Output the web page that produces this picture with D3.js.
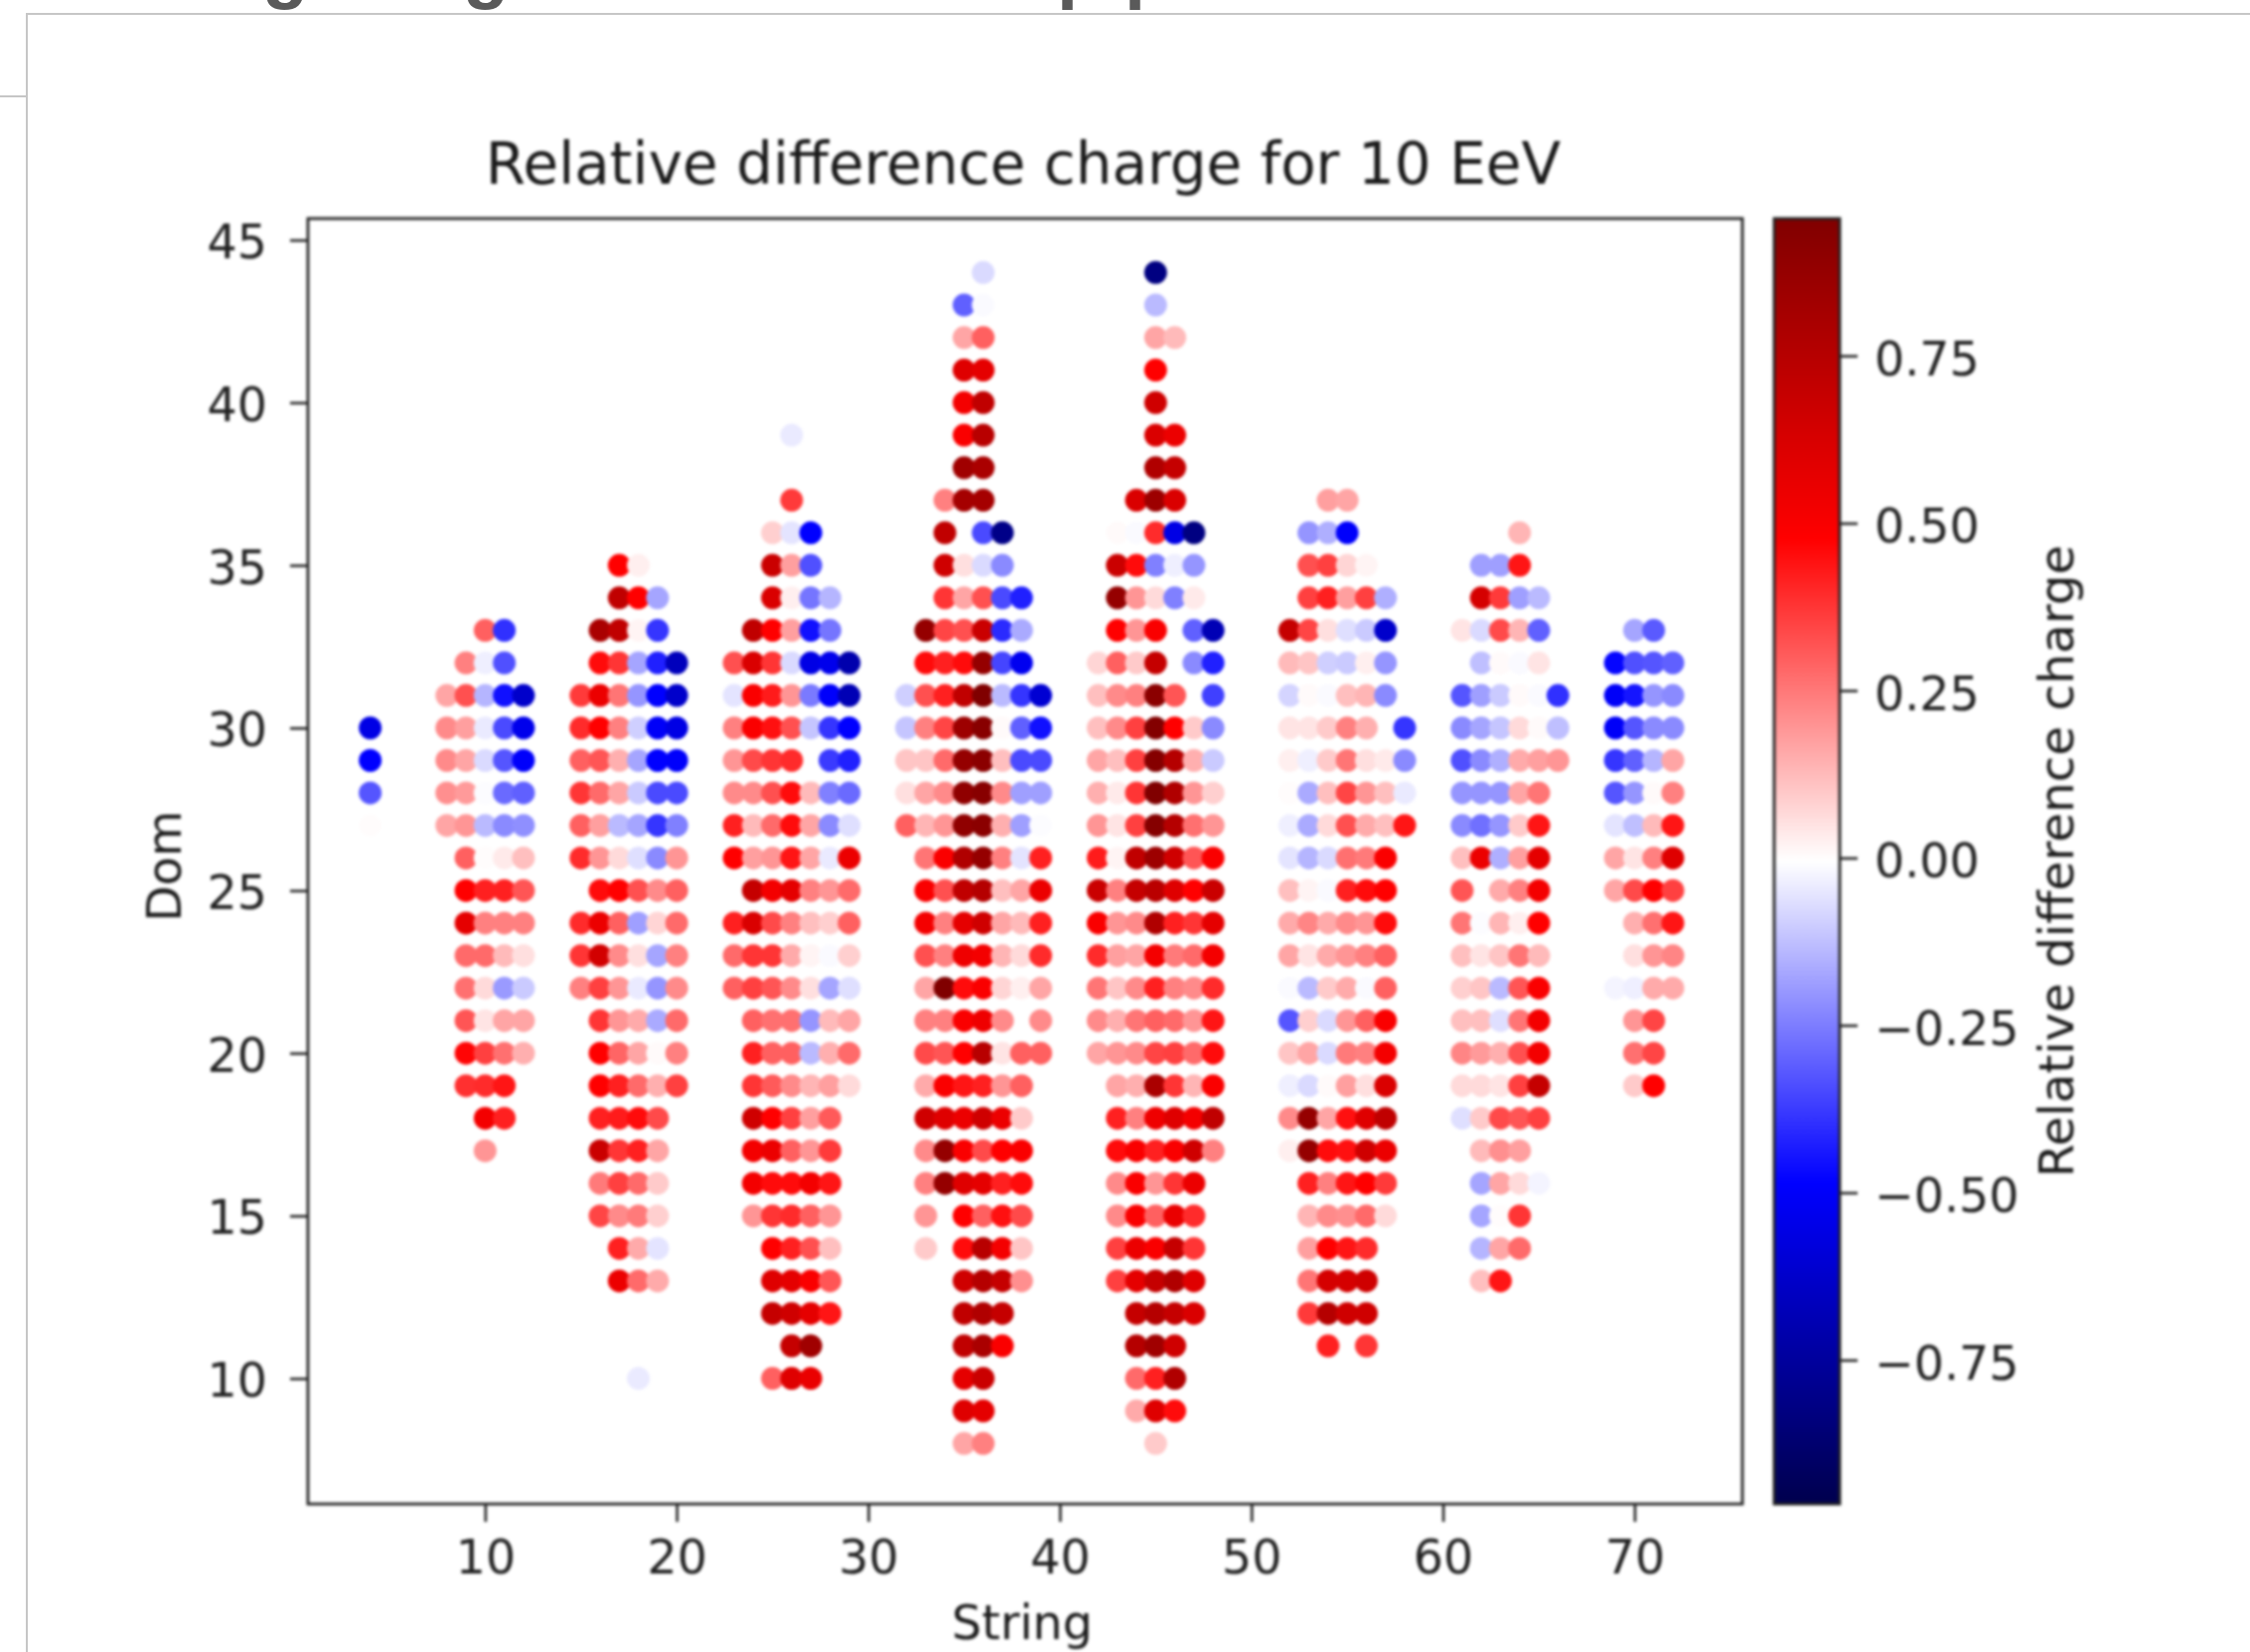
<!DOCTYPE html>
<html>
<head>
<meta charset="utf-8">
<script src="https://cdn.jsdelivr.net/npm/d3@7"></script>
<style>
  html, body { margin: 0; padding: 0; background: #fff; }
  svg { display: block; }
  text { font-family: "DejaVu Sans", sans-serif; fill: #1a1a1a; }
</style>
</head>
<body>
<svg id="chart" width="2265" height="1663"></svg>
<script>
// [string, relative difference] per dom
const dom44 = [[36,-.07],[45,-.82]]
const dom43 = [[35,-.3],[36,-.01],[45,-.13]]
const dom42 = [[35,.17],[36,.3],[45,.17],[46,.13]]
const dom41 = [[35,.6],[36,.58],[45,.48]]
const dom40 = [[35,.52],[36,.72],[45,.66]]
const dom39 = [[26,-.04],[35,.5],[36,.75],[45,.62],[46,.55]]
const dom38 = [[35,.84],[36,.8],[45,.78],[46,.7]]
const dom37 = [[26,.37],[34,.24],[35,.82],[36,.82],[44,.62],[45,.85],[46,.62],[54,.18],[55,.17]]
const dom36 = [[25,.09],[26,-.05],[27,-.48],[34,.72],[36,-.34],[37,-.8],[43,.01],[44,-.01],[45,.4],[46,-.55],[47,-.82],[53,-.2],[54,-.15],[55,-.49],[64,.14]]
const dom35 = [[17,.48],[18,.03],[25,.68],[26,.18],[27,-.33],[34,.66],[35,.06],[36,-.07],[37,-.22],[43,.68],[44,.46],[45,-.24],[46,-.03],[47,-.2],[53,.33],[54,.36],[55,.08],[56,.02],[62,-.18],[63,-.18],[64,.44]]
const dom34 = [[17,.72],[18,.48],[19,-.17],[25,.62],[26,.03],[27,-.26],[28,-.14],[34,.38],[35,.17],[36,.33],[37,-.34],[38,-.42],[43,.88],[44,.2],[45,.07],[46,-.24],[47,.04],[53,.36],[54,.42],[55,.18],[56,.36],[57,-.15],[62,.64],[63,.37],[64,-.18],[65,-.13]]
const dom33 = [[10,.3],[11,-.39],[16,.8],[17,.72],[18,.02],[19,-.38],[24,.72],[25,.48],[26,.18],[27,-.45],[28,-.26],[33,.88],[34,.35],[35,.33],[36,.68],[37,-.4],[38,-.16],[43,.48],[44,.2],[45,.5],[47,-.3],[48,-.68],[52,.7],[53,.35],[54,.06],[55,-.06],[56,-.1],[57,-.62],[61,.05],[62,-.07],[63,.34],[64,.14],[65,-.3],[70,-.17],[71,-.31]]
const dom32 = [[9,.24],[10,-.03],[11,-.33],[16,.46],[17,.38],[18,-.17],[19,-.42],[20,-.66],[23,.33],[24,.62],[25,.38],[26,-.07],[27,-.55],[28,-.53],[29,-.7],[33,.46],[34,.42],[35,.46],[36,.88],[37,-.35],[38,-.52],[42,.08],[43,.3],[44,.1],[45,.7],[47,-.22],[48,-.42],[52,.13],[53,.11],[54,-.09],[55,-.1],[56,.03],[57,-.2],[62,-.12],[63,.01],[64,-.01],[65,.05],[69,-.47],[70,-.33],[71,-.32],[72,-.3]]
const dom31 = [[8,.17],[9,.33],[10,-.14],[11,-.45],[12,-.62],[15,.37],[16,.55],[17,.26],[18,-.2],[19,-.48],[20,-.62],[23,-.05],[24,.5],[25,.43],[26,.2],[27,-.25],[28,-.49],[29,-.68],[32,-.09],[33,.33],[34,.42],[35,.72],[36,.96],[37,-.13],[38,-.38],[39,-.6],[42,.12],[43,.22],[44,.24],[45,.92],[46,.32],[48,-.36],[52,-.08],[53,.01],[54,-.01],[55,.12],[56,.14],[57,-.22],[61,-.32],[62,-.18],[63,-.1],[64,.01],[65,-.01],[66,-.39],[69,-.5],[70,-.44],[71,-.2],[72,-.22]]
const dom30 = [[4,-.55],[8,.22],[9,.18],[10,-.04],[11,-.34],[12,-.53],[15,.4],[16,.48],[17,.24],[18,-.09],[19,-.5],[20,-.55],[23,.24],[24,.5],[25,.45],[26,.33],[27,-.11],[28,-.38],[29,-.48],[32,-.11],[33,.24],[34,.35],[35,.85],[36,.93],[37,.01],[38,-.3],[39,-.45],[42,.12],[43,.22],[44,.36],[45,.95],[46,.48],[47,.1],[48,-.22],[52,.05],[53,.05],[54,.1],[55,.24],[56,.15],[58,-.38],[61,-.22],[62,-.17],[63,-.11],[64,.07],[65,.01],[66,-.12],[69,-.5],[70,-.32],[71,-.22],[72,-.22]]
const dom29 = [[4,-.48],[8,.22],[9,.17],[10,-.07],[11,-.32],[12,-.49],[15,.3],[16,.32],[17,.15],[18,-.17],[19,-.48],[20,-.49],[23,.2],[24,.34],[25,.38],[26,.4],[28,-.37],[29,-.42],[32,.11],[33,.11],[34,.28],[35,.88],[36,.92],[37,.12],[38,-.34],[39,-.34],[42,.17],[43,.12],[44,.36],[45,.94],[46,.76],[47,.15],[48,-.1],[52,.03],[53,-.03],[54,.1],[55,.26],[56,.06],[57,.04],[58,-.22],[61,-.33],[62,-.22],[63,-.15],[64,.16],[65,.18],[66,.2],[69,-.38],[70,-.3],[71,-.14],[72,.17]]
const dom28 = [[4,-.32],[8,.21],[9,.19],[10,-.005],[11,-.28],[12,-.3],[15,.38],[16,.28],[17,.17],[18,-.1],[19,-.34],[20,-.34],[23,.22],[24,.22],[25,.33],[26,.46],[27,.13],[28,-.24],[29,-.28],[32,.06],[33,.17],[34,.22],[35,.9],[36,.93],[37,.22],[38,-.18],[39,-.18],[42,.15],[43,.04],[44,.38],[45,.96],[46,.78],[47,.2],[48,.09],[52,.005],[53,-.16],[54,.12],[55,.35],[56,.2],[57,.12],[58,-.04],[61,-.2],[62,-.2],[63,-.2],[64,.17],[65,.26],[69,-.32],[70,-.2],[71,.01],[72,.24]]
const dom27 = [[4,.005],[8,.17],[9,.2],[10,-.13],[11,-.22],[12,-.21],[15,.3],[16,.18],[17,-.13],[18,-.17],[19,-.38],[20,-.24],[23,.42],[24,.13],[25,.28],[26,.46],[27,.17],[28,-.22],[29,-.06],[32,.3],[33,.14],[34,.2],[35,.9],[36,.92],[37,.15],[38,-.18],[39,-.005],[42,.2],[43,.05],[44,.36],[45,.94],[46,.76],[47,.27],[48,.2],[52,-.03],[53,-.16],[54,.07],[55,.33],[56,.16],[57,.12],[58,.44],[61,-.22],[62,-.27],[63,-.2],[64,.1],[65,.44],[69,-.05],[70,-.12],[71,.13],[72,.44]]
const dom26 = [[9,.3],[10,.005],[11,.04],[12,.12],[15,.4],[16,.2],[17,.07],[18,-.06],[19,-.22],[20,.2],[23,.48],[24,.18],[25,.2],[26,.44],[27,.17],[28,-.04],[29,.55],[33,.26],[34,.5],[35,.78],[36,.88],[37,.24],[38,-.05],[39,.42],[42,.43],[43,.02],[44,.72],[45,.85],[46,.66],[47,.32],[48,.5],[52,-.05],[53,-.14],[54,-.07],[55,.27],[56,.25],[57,.5],[61,.12],[62,.55],[63,-.15],[64,.18],[65,.58],[69,.17],[70,.05],[71,.24],[72,.6]]
const dom25 = [[9,.48],[10,.42],[11,.42],[12,.32],[16,.46],[17,.48],[18,.33],[19,.22],[20,.3],[24,.7],[25,.52],[26,.58],[27,.24],[28,.2],[29,.28],[33,.5],[34,.33],[35,.72],[36,.76],[37,.12],[38,.17],[39,.55],[42,.68],[43,.24],[44,.7],[45,.74],[46,.6],[47,.48],[48,.68],[52,.12],[53,.02],[54,-.01],[55,.42],[56,.46],[57,.48],[61,.32],[63,.16],[64,.24],[65,.52],[69,.17],[70,.34],[71,.48],[72,.36]]
const dom24 = [[9,.58],[10,.24],[11,.24],[12,.24],[15,.4],[16,.55],[17,.3],[18,-.18],[19,.08],[20,.28],[23,.42],[24,.62],[25,.34],[26,.24],[27,.12],[28,.09],[29,.3],[33,.52],[34,.24],[35,.58],[36,.66],[37,.17],[38,.13],[39,.42],[42,.5],[43,.2],[44,.22],[45,.78],[46,.42],[47,.38],[48,.58],[52,.16],[53,.23],[54,.16],[55,.22],[56,.2],[57,.46],[61,.26],[62,-.005],[63,.14],[64,.03],[65,.48],[70,.15],[71,.27],[72,.44]]
const dom23 = [[9,.28],[10,.28],[11,.13],[12,.06],[15,.38],[16,.65],[17,.22],[18,.06],[19,-.17],[20,.24],[23,.28],[24,.38],[25,.38],[26,.16],[27,.02],[28,-.01],[29,.09],[33,.33],[34,.24],[35,.54],[36,.52],[37,.14],[38,.07],[39,.4],[42,.4],[43,.18],[44,.17],[45,.52],[46,.25],[47,.28],[48,.52],[52,.17],[53,.05],[54,.16],[55,.2],[56,.24],[57,.3],[61,.12],[62,.05],[63,.11],[64,.26],[65,.13],[70,.06],[71,.2],[72,.23]]
const dom22 = [[9,.27],[10,.07],[11,-.19],[12,-.1],[15,.24],[16,.36],[17,.2],[18,-.04],[19,-.2],[20,.22],[23,.3],[24,.36],[25,.32],[26,.22],[27,.06],[28,-.17],[29,-.06],[33,.17],[34,.96],[35,.46],[36,.5],[37,.08],[38,.03],[39,.17],[42,.26],[43,.11],[44,.22],[45,.42],[46,.24],[47,.22],[48,.4],[52,-.01],[53,-.13],[54,.1],[55,.16],[56,-.01],[57,.3],[61,.09],[62,.11],[63,-.13],[64,.32],[65,.5],[69,-.02],[70,-.03],[71,.16],[72,.16]]
const dom21 = [[9,.32],[10,.05],[11,.17],[12,.17],[16,.38],[17,.2],[18,.16],[19,-.16],[20,.28],[24,.3],[25,.27],[26,.27],[27,-.2],[28,.13],[29,.17],[33,.24],[34,.24],[35,.5],[36,.54],[37,.22],[39,.22],[42,.22],[43,.15],[44,.26],[45,.3],[46,.28],[47,.2],[48,.44],[52,-.32],[53,.09],[54,-.07],[55,.2],[56,.3],[57,.5],[61,.12],[62,.12],[63,-.06],[64,.26],[65,.52],[70,.2],[71,.35]]
const dom20 = [[9,.47],[10,.36],[11,.27],[12,.15],[16,.48],[17,.29],[18,.17],[19,.01],[20,.24],[24,.42],[25,.3],[26,.3],[27,-.13],[28,.15],[29,.28],[33,.34],[34,.32],[35,.48],[36,.75],[37,.05],[38,.3],[39,.3],[42,.17],[43,.2],[44,.22],[45,.35],[46,.36],[47,.28],[48,.46],[52,.11],[53,.17],[54,-.07],[55,.25],[56,.24],[57,.52],[61,.23],[62,.19],[63,.15],[64,.33],[65,.52],[70,.27],[71,.35]]
const dom19 = [[9,.39],[10,.4],[11,.44],[16,.48],[17,.42],[18,.28],[19,.15],[20,.36],[24,.38],[25,.31],[26,.22],[27,.14],[28,.18],[29,.07],[33,.16],[34,.5],[35,.44],[36,.42],[37,.2],[38,.3],[43,.17],[44,.15],[45,.8],[46,.38],[47,.14],[48,.5],[52,-.03],[53,-.07],[54,.01],[55,.18],[56,.06],[57,.62],[61,.07],[62,.07],[63,.05],[64,.36],[65,.7],[70,.1],[71,.48]]
const dom18 = [[10,.52],[11,.42],[16,.42],[17,.43],[18,.46],[19,.34],[24,.66],[25,.48],[26,.36],[27,.18],[28,.31],[33,.66],[34,.6],[35,.55],[36,.66],[37,.55],[38,.1],[43,.42],[44,.24],[45,.54],[46,.6],[47,.52],[48,.72],[52,.22],[53,.88],[54,.17],[55,.45],[56,.6],[57,.72],[61,-.06],[62,.1],[63,.34],[64,.32],[65,.36]]
const dom17 = [[10,.2],[16,.68],[17,.38],[18,.42],[19,.17],[24,.52],[25,.55],[26,.3],[27,.2],[28,.37],[33,.22],[34,.88],[35,.5],[36,.34],[37,.48],[38,.5],[43,.46],[44,.5],[45,.42],[46,.5],[47,.66],[48,.24],[52,.03],[53,.88],[54,.46],[55,.45],[56,.66],[57,.55],[62,.13],[63,.21],[64,.18]]
const dom16 = [[16,.25],[17,.36],[18,.28],[19,.1],[24,.52],[25,.46],[26,.46],[27,.52],[28,.44],[33,.24],[34,.88],[35,.6],[36,.58],[37,.42],[38,.46],[43,.22],[44,.5],[45,.2],[46,.38],[47,.55],[53,.42],[54,.24],[55,.44],[56,.48],[57,.37],[62,-.17],[63,.17],[64,.07],[65,-.02]]
const dom15 = [[16,.35],[17,.22],[18,.25],[19,.09],[24,.2],[25,.38],[26,.4],[27,.3],[28,.2],[33,.2],[35,.48],[36,.3],[37,.45],[38,.34],[43,.22],[44,.5],[45,.3],[46,.56],[47,.4],[53,.14],[54,.22],[55,.21],[56,.28],[57,.07],[62,-.17],[63,.005],[64,.38]]
const dom14 = [[17,.42],[18,.16],[19,-.05],[25,.48],[26,.42],[27,.33],[28,.12],[33,.1],[35,.46],[36,.75],[37,.52],[38,.11],[43,.36],[44,.55],[45,.5],[46,.7],[47,.38],[53,.18],[54,.48],[55,.44],[56,.4],[62,-.14],[63,.17],[64,.28]]
const dom13 = [[17,.55],[18,.28],[19,.16],[25,.6],[26,.58],[27,.5],[28,.32],[35,.66],[36,.76],[37,.7],[38,.21],[43,.36],[44,.58],[45,.7],[46,.78],[47,.6],[53,.26],[54,.64],[55,.64],[56,.66],[62,.12],[63,.44]]
const dom12 = [[25,.7],[26,.66],[27,.58],[28,.44],[35,.72],[36,.78],[37,.7],[44,.7],[45,.76],[46,.7],[47,.62],[53,.37],[54,.76],[55,.66],[56,.66]]
const dom11 = [[26,.7],[27,.84],[35,.72],[36,.8],[37,.5],[44,.76],[45,.84],[46,.66],[54,.42],[56,.38]]
const dom10 = [[18,-.04],[25,.3],[26,.6],[27,.56],[35,.58],[36,.68],[44,.28],[45,.42],[46,.78]]
const dom9 = [[35,.6],[36,.58],[44,.16],[45,.6],[46,.46]]
const dom8 = [[35,.17],[36,.24],[45,.1]]

const doms = [44, 43, 42, 41, 40, 39, 38, 37, 36, 35, 34, 33, 32, 31, 30, 29, 28, 27, 26, 25, 24, 23, 22, 21, 20, 19, 18, 17, 16, 15, 14, 13, 12, 11, 10, 9, 8]
const domRows = [dom44, dom43, dom42, dom41, dom40, dom39, dom38, dom37, dom36, dom35, dom34, dom33, dom32, dom31, dom30, dom29, dom28, dom27, dom26, dom25, dom24, dom23, dom22, dom21, dom20, dom19, dom18, dom17, dom16, dom15, dom14, dom13, dom12, dom11, dom10, dom9, dom8]

const xTicks = [10, 20, 30, 40, 50, 60, 70]
const yTicks = [10, 15, 20, 25, 30, 35, 40, 45]
const cbarTicks = [-0.75, -0.5, -0.25, 0, 0.25, 0.5, 0.75]

const seismicStops = [-0.96, -0.48, 0, 0.48, 0.96]
const seismicColors = ['#00004d', '#0000ff', '#ffffff', '#ff0000', '#800000']

const box = {left: 310, right: 1754, top: 220, bottom: 1514}
const cbar = {left: 1786, right: 1852}

let svg = d3.select('#chart')
let x = d3.scaleLinear().domain([0.75, 75.63]).range([box.left, box.right])
let y = d3.scaleLinear().domain([6.14, 45.66]).range([box.bottom, box.top])
let cy = d3.scaleLinear().domain([-0.965, 0.955]).range([box.bottom, box.top])
let color = d3.scaleLinear().domain(seismicStops).range(seismicColors)

// flatten the rows; later strings are painted over earlier ones
let points = []
domRows.forEach((row, i) => {
  row.forEach((d) => points.push({string: d[0], dom: doms[i], value: d[1]}))
})
points = d3.sort(points, (d) => d.string, (d) => d.dom)

// bits of the notebook page around the figure, the heading is cut off by the top edge
let page = svg.append('g').attr('class', 'page')
page.append('path')
  .attr('d', 'M27,1663V14H2265M0,97H27')
  .attr('fill', 'none')
  .attr('stroke', '#c6c6c6')
  .attr('stroke-width', 2)
let headingLetters = [['g', 264], ['g', 466], ['p', 1064], ['p', 1132]]
page.selectAll('text.heading')
  .data(headingLetters)
  .enter()
  .append('text')
  .attr('class', 'heading')
  .attr('x', (d) => d[1])
  .attr('y', -6)
  .attr('font-size', 76)
  .attr('font-weight', 700)
  .style('font-family', '"Liberation Sans", sans-serif')
  .style('fill', '#5a5a5a')
  .text((d) => d[0])

// the figure is a blurry upscaled raster, so soften all of it a little
let fig = svg.append('g').style('filter', 'blur(1.7px)')

fig.append('rect')
  .attr('x', box.left)
  .attr('y', box.top)
  .attr('width', box.right - box.left)
  .attr('height', box.bottom - box.top)
  .attr('fill', '#fff')

fig.append('g')
  .attr('class', 'dots')
  .selectAll('circle')
  .data(points)
  .enter()
  .append('circle')
  .attr('cx', (d) => x(d.string))
  .attr('cy', (d) => y(d.dom))
  .attr('r', 11.5)
  .attr('fill', (d) => color(d.value))

function styleAxis (g) {
  g.select('.domain').remove()
  g.selectAll('.tick line').attr('stroke', '#222').attr('stroke-width', 2.6)
  g.selectAll('.tick text').attr('font-size', 47.5).style('fill', '#222')
}

fig.append('g')
  .attr('transform', `translate(0,${box.bottom})`)
  .call(d3.axisBottom(x).tickValues(xTicks).tickSize(18).tickPadding(18))
  .call(styleAxis)

fig.append('g')
  .attr('transform', `translate(${box.left},0)`)
  .call(d3.axisLeft(y).tickValues(yTicks).tickSize(18).tickPadding(23))
  .call(styleAxis)
  .call((g) => g.selectAll('.tick text').attr('dy', '0.38em'))

fig.append('rect')
  .attr('x', box.left)
  .attr('y', box.top)
  .attr('width', box.right - box.left)
  .attr('height', box.bottom - box.top)
  .attr('fill', 'none')
  .attr('stroke', '#222')
  .attr('stroke-width', 2.8)

// colorbar
let grad = svg.append('defs').append('linearGradient')
  .attr('id', 'seismic')
  .attr('x1', 0).attr('x2', 0).attr('y1', 1).attr('y2', 0)
grad.selectAll('stop')
  .data(seismicStops)
  .enter()
  .append('stop')
  .attr('offset', (d) => (d + 0.96) / 1.92)
  .attr('stop-color', (d) => color(d))

fig.append('rect')
  .attr('x', cbar.left)
  .attr('y', box.top)
  .attr('width', cbar.right - cbar.left)
  .attr('height', box.bottom - box.top)
  .attr('fill', 'url(#seismic)')
  .attr('stroke', '#222')
  .attr('stroke-width', 2.8)

fig.append('g')
  .attr('transform', `translate(${cbar.right},0)`)
  .call(d3.axisRight(cy).tickValues(cbarTicks).tickSize(18).tickPadding(17)
    .tickFormat((d) => d3.format('.2f')(d).replace('-', '\u2212')))
  .call(styleAxis)
  .call((g) => g.selectAll('.tick text').attr('dy', '0.40em'))

// labels
fig.append('text')
  .attr('x', 1030)
  .attr('y', 185)
  .attr('text-anchor', 'middle')
  .attr('font-size', 58)
  .text('Relative difference charge for 10 EeV')

fig.append('text')
  .attr('x', 1029)
  .attr('y', 1650)
  .attr('text-anchor', 'middle')
  .attr('font-size', 47.5)
  .text('String')

fig.append('text')
  .attr('transform', 'translate(182,872) rotate(-90)')
  .attr('text-anchor', 'middle')
  .attr('font-size', 47.5)
  .text('Dom')

fig.append('text')
  .attr('transform', 'translate(2087,867) rotate(-90)')
  .attr('text-anchor', 'middle')
  .attr('font-size', 48.5)
  .text('Relative difference charge')
</script>
</body>
</html>
